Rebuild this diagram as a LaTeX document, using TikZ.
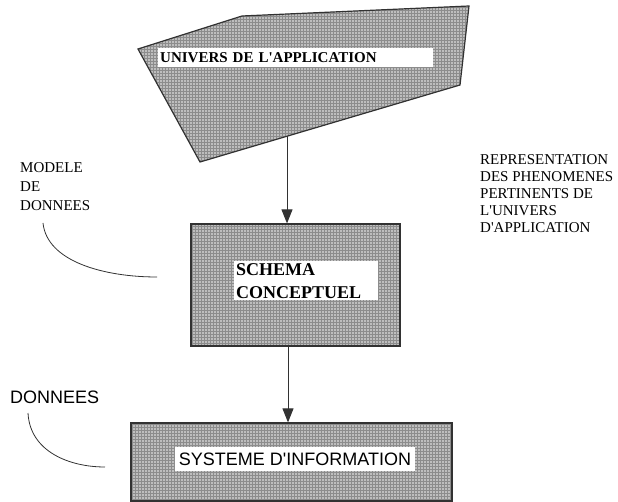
\documentclass[tikz,border=0pt]{standalone}
\usepackage{fontspec}
\setmainfont{Liberation Serif}
\newfontfamily\arialfont{Liberation Sans}
\usepackage{tikz}
\usetikzlibrary{
  arrows.meta, positioning, calc, patterns
}
\usepackage{xcolor}
\definecolor{hatchgray}{RGB}{190, 190, 190}
\definecolor{edgegray}{RGB}{50, 50, 50}

\tikzset{
  hatched/.style={draw=edgegray, line width=1.2pt,
    preaction={fill=hatchgray}, pattern=grid,
    pattern color=black!45},
  whitelabel/.style={fill=white, inner sep=2pt, align=left},
  flowarrow/.style={draw=edgegray, line width=1pt,
    -{Triangle[length=14pt, width=11pt]}},
  pointer/.style={draw=edgegray, line width=0.8pt}
}
\newcommand{\apos}{\textquotesingle}

\begin{document}
\begin{tikzpicture}[x=1pt, y=-1pt]
        \useasboundingbox (0,0) rectangle (618,502);
        % univers de l'application
        \draw[hatched] (138,49) -- (242,16) -- (469,6) -- (460,85)
          -- (200,162) -- cycle;
        \coordinate (ubot) at (287,136);
        \node[whitelabel, anchor=west, minimum height=19pt,
              text width=271pt, font=\fontsize{15}{17}\selectfont\bfseries]
          (univers) at (158,57.5) {UNIVERS DE L\apos APPLICATION};
        % schema conceptuel
        \node[hatched, minimum width=209pt, minimum height=122pt]
          (schema) at (295.5,285) {};
        \node[whitelabel, anchor=north west, text width=140pt,
              font=\fontsize{18}{23}\selectfont\bfseries]
          (schemalabel) at (234,261) {SCHEMA\\CONCEPTUEL};
        % systeme d'information
        \node[hatched, minimum width=321pt, minimum height=78pt]
          (systeme) at (291.5,462) {};
        \node[whitelabel, minimum width=240pt, minimum height=24pt,
              align=center, font=\arialfont\fontsize{18}{20}\selectfont]
          (systemelabel) at (295,459) {SYSTEME D\apos INFORMATION};
        % arrows
        \draw[flowarrow] (ubot) -- (ubot |- schema.north);
        \draw[flowarrow] ($(schema.south -| ubot)+(1,0)$)
          -- ($(systeme.north -| ubot)+(1,0)$);
        % side texts
        \node[anchor=north west, inner sep=0pt, align=left,
              font=\fontsize{15}{19}\selectfont] (modele) at (20,162)
          {MODELE\\DE\\DONNEES};
        \coordinate (modeleend) at (157,277);
        \draw[pointer] (43,223) .. controls (47,262) and (105,277) .. (modeleend);
        \node[anchor=north west, inner sep=0pt, align=left,
              font=\fontsize{15}{17}\selectfont] (repr) at (480,154)
          {REPRESENTATION\\DES PHENOMENES\\PERTINENTS DE\\L\apos UNIVERS\\D\apos APPLICATION};
        \node[anchor=north west, inner sep=0pt,
              font=\arialfont\fontsize{18}{20}\selectfont] (donnees) at (10,391)
          {DONNEES};
        \coordinate (donneesend) at (105,467);
        \draw[pointer] (28,413) .. controls (30,452) and (70,467) .. (donneesend);
      \end{tikzpicture}
\end{document}
